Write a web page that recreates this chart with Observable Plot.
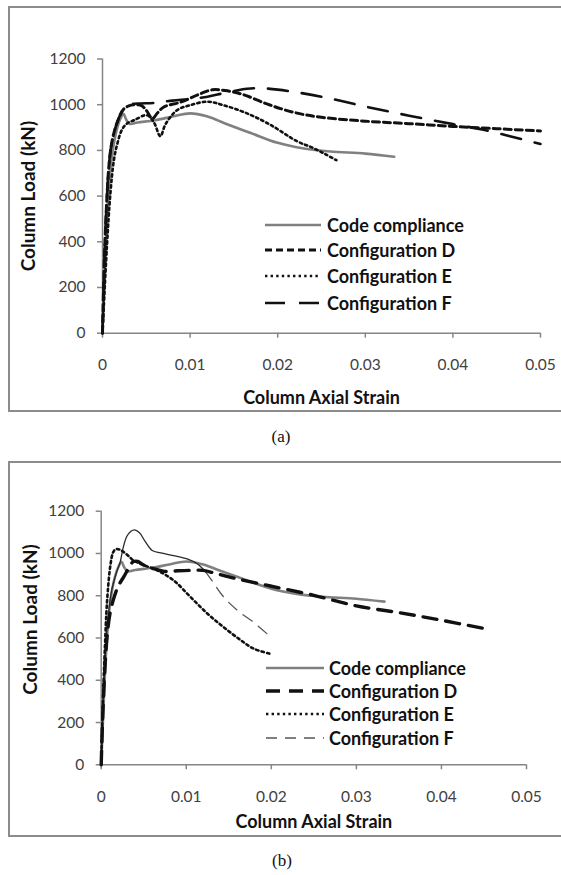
<!DOCTYPE html>
<html><head><meta charset="utf-8">
<script src="https://cdn.jsdelivr.net/npm/d3@7"></script>
<script src="https://cdn.jsdelivr.net/npm/@observablehq/plot@0.6"></script>
<style>
body{margin:0;background:#fff;}
#root{position:relative;width:561px;height:875px;overflow:hidden;font-family:Lato,sans-serif;background:#fff;}
.box{position:absolute;border:2px solid #8c8c8c;box-sizing:border-box;}
.chart{position:absolute;left:0;}
.lrow{position:absolute;height:20px;display:flex;align-items:center;font-weight:700;font-size:18px;color:#111;white-space:nowrap;}
.cap{position:absolute;font-family:"Liberation Serif",serif;font-size:17px;color:#111;transform:translate(-50%,-50%);}
</style></head>
<body><div id="root"></div>
<script>
// ---- axes ----
const xTicks = [0, 0.01, 0.02, 0.03, 0.04, 0.05];
const xTickLabels = ["0", "0.01", "0.02", "0.03", "0.04", "0.05"];
const yTicks = [0, 200, 400, 600, 800, 1000, 1200];
const yTickLabels = ["0", "200", "400", "600", "800", "1000", "1200"];
const xTitle = "Column Axial Strain";
const yTitle = "Column Load (kN)";
const seriesNames = ["Code compliance", "Configuration D", "Configuration E", "Configuration F"];
const captions = ["(a)", "(b)"];

// ---- code compliance (both panels) ----
const ccStrain = [0,0.0003,0.0006,0.001,0.0015,0.002,0.0024,0.0027,0.0031,0.004,0.006,0.008,0.01,0.012,0.014,0.017,0.02,0.023,0.026,0.03,0.0333];
const ccLoad   = [0,300,550,750,870,935,960,935,916,922,932,948,962,948,918,875,833,808,795,786,772];

// ---- panel (a) ----
const aDStrain = [0,0.0003,0.0008,0.0012,0.0018,0.0024,0.003,0.0038,0.0045,0.005,0.0057,0.0063,0.007,0.009,0.011,0.0125,0.014,0.016,0.019,0.022,0.025,0.03,0.035,0.04,0.045,0.05];
const aDLoad   = [0,420,760,860,935,980,995,1000,995,975,940,965,990,1012,1045,1065,1062,1045,1000,965,945,928,917,905,895,885];
const aEStrain = [0,0.0005,0.0009,0.0013,0.0017,0.0022,0.0028,0.0036,0.0051,0.0059,0.0066,0.0072,0.0085,0.01,0.012,0.0138,0.0165,0.0192,0.0222,0.0239,0.0255,0.0267];
const aELoad   = [0,377,611,757,830,889,918,932,954,920,862,915,976,998,1013,998,962,911,840,813,782,757];
const aFStrain = [0,0.0003,0.0008,0.0012,0.0018,0.0023,0.003,0.004,0.006,0.008,0.01,0.012,0.014,0.0165,0.018,0.02,0.025,0.03,0.035,0.04,0.0435,0.05];
const aFLoad   = [0,420,760,860,935,975,1000,1005,1008,1018,1025,1035,1052,1070,1072,1066,1035,992,952,915,890,828];

// ---- panel (b) ----
const bDStrain = [0,0.0002,0.0005,0.0008,0.0011,0.0015,0.002,0.0027,0.0033,0.0038,0.0043,0.005,0.006,0.0075,0.009,0.0105,0.012,0.0135,0.016,0.02,0.025,0.03,0.035,0.04,0.045];
const bDLoad   = [0,250,500,650,730,790,845,893,935,962,962,945,930,915,918,920,920,905,880,845,802,752,720,684,645];
const bEStrain = [0,0.0002,0.0004,0.0007,0.0011,0.0014,0.0017,0.0022,0.0027,0.0033,0.0038,0.005,0.0066,0.0085,0.0105,0.0125,0.0144,0.0164,0.0179,0.0199];
const bELoad   = [0,300,520,780,950,1005,1020,1018,1005,985,967,945,920,873,794,715,651,590,550,525];
const bFStrain = [0,0.0003,0.0007,0.0012,0.0018,0.0022,0.0026,0.003,0.0035,0.0039,0.0045,0.0052,0.006,0.007,0.0085,0.0101,0.0113,0.0123,0.013,0.0144,0.016,0.0179,0.0195];
const bFLoad   = [0,380,650,820,910,955,1030,1080,1105,1112,1098,1055,1014,1003,990,974,951,912,873,794,731,675,620];
const bFDashFrom = 0.0123; // strain where the thin F line turns dashed

const rows = (s, l) => s.map((v, i) => ({strain: v, load: l[i]}));

const axisGray = "#868686";

const panels = [
  {
    top: 0, height: 420, marginLeft: 102, marginRight: 21, marginTop: 58.5, marginBottom: 87.3,
    xTitleDy: 65.3, yTitleDx: -74, yTitleDy: 0,
    box: {left: 8, top: 6, width: 560, height: 406},
    cap: {x: 281, y: 437},
    legend: {lineX: 265, lineW: 56, textX: 327, ys: [225, 250, 276, 303]},
    series: [
      {data: rows(ccStrain, ccLoad), stroke: "#808080", width: 2.6, dash: null},
      {data: rows(aDStrain, aDLoad), stroke: "#111", width: 3, dash: "7,4"},
      {data: rows(aEStrain, aELoad), stroke: "#111", width: 2.6, dash: "2.4,3.2"},
      {data: rows(aFStrain, aFLoad), stroke: "#111", width: 2.6, dash: "20,14"}
    ],
    order: [0, 2, 1, 3]
  },
  {
    top: 440, height: 420, marginLeft: 100.7, marginRight: 35, marginTop: 70.7, marginBottom: 95.7,
    xTitleDy: 57.4, yTitleDx: -70.7, yTitleDy: -18.5,
    box: {left: 8, top: 461, width: 560, height: 376},
    cap: {x: 282, y: 861},
    legend: {lineX: 266, lineW: 58, textX: 329, ys: [668, 691, 714, 738]},
    series: [
      {data: rows(ccStrain, ccLoad), stroke: "#808080", width: 2.6, dash: null},
      {data: rows(bDStrain, bDLoad), stroke: "#111", width: 3.4, dash: "14,9"},
      {data: rows(bEStrain, bELoad), stroke: "#111", width: 2.6, dash: "2.4,3.2"},
      {data: rows(bFStrain, bFLoad), stroke: "#555", width: 1.3, dash: "11,8", solidUntil: bFDashFrom}
    ],
    order: [0, 3, 2, 1]
  }
];

const root = document.getElementById("root");

panels.forEach((p, pi) => {
  const box = document.createElement("div");
  box.className = "box";
  Object.assign(box.style, {left: p.box.left + "px", top: p.box.top + "px", width: p.box.width + "px", height: p.box.height + "px"});
  root.appendChild(box);

  const lineMarks = [];
  p.order.forEach(k => {
    const s = p.series[k];
    if (s.solidUntil != null) {
      lineMarks.push(Plot.line(s.data.filter(d => d.strain <= s.solidUntil), {x: "strain", y: "load", stroke: "#2a2a2a", strokeWidth: s.width, curve: "catmull-rom"}));
      lineMarks.push(Plot.line(s.data.filter(d => d.strain >= s.solidUntil), {x: "strain", y: "load", stroke: s.stroke, strokeWidth: s.width, strokeDasharray: s.dash, curve: "catmull-rom"}));
    } else {
      lineMarks.push(Plot.line(s.data, {x: "strain", y: "load", stroke: s.stroke, strokeWidth: s.width, strokeDasharray: s.dash, curve: "catmull-rom"}));
    }
  });

  const chart = Plot.plot({
    width: 561, height: p.height,
    marginLeft: p.marginLeft, marginRight: p.marginRight, marginTop: p.marginTop, marginBottom: p.marginBottom,
    style: {fontFamily: "Lato, sans-serif", fontSize: "15.5px", background: "transparent", overflow: "visible"},
    x: {domain: [0, 0.05]},
    y: {domain: [0, 1200]},
    marks: [
      Plot.ruleY([0], {stroke: axisGray, strokeWidth: 1.5}),
      Plot.ruleX([0], {stroke: axisGray, strokeWidth: 1.5}),
      Plot.axisX({ticks: xTicks, tickFormat: d => xTickLabels[xTicks.indexOf(d)], tickSize: 5, tickPadding: 21, stroke: axisGray, strokeWidth: 1.5, fill: "#404040", label: null}),
      Plot.axisY({ticks: yTicks, tickFormat: d => yTickLabels[yTicks.indexOf(d)], tickSize: 5, tickPadding: 12, stroke: axisGray, strokeWidth: 1.5, fill: "#404040", label: null}),
      ...lineMarks,
      Plot.text([xTitle], {text: d => d, frameAnchor: "bottom", dy: p.xTitleDy, lineAnchor: "middle", textAnchor: "middle", fontWeight: 700, fontSize: 18, fill: "#111"}),
      Plot.text([yTitle], {text: d => d, frameAnchor: "left", dx: p.yTitleDx, dy: p.yTitleDy, rotate: -90, lineAnchor: "middle", textAnchor: "middle", fontWeight: 700, fontSize: 19, fill: "#111"})
    ]
  });
  chart.classList.add("chart");
  chart.style.top = p.top + "px";
  root.appendChild(chart);

  // legend
  seriesNames.forEach((name, i) => {
    const s = p.series[i];
    const row = document.createElement("div");
    row.className = "lrow";
    row.style.left = p.legend.lineX + "px";
    row.style.top = (p.legend.ys[i] - 10) + "px";
    const gap = p.legend.textX - p.legend.lineX - p.legend.lineW;
    const dash = s.dash ? `stroke-dasharray="${s.dash}"` : "";
    row.innerHTML = `<svg width="${p.legend.lineW}" height="10" style="margin-right:${gap}px"><line x1="0" y1="5" x2="${p.legend.lineW}" y2="5" stroke="${s.stroke === "#555" ? "#808080" : s.stroke}" stroke-width="${Math.max(s.width, 1.8)}" ${dash}/></svg><span>${name}</span>`;
    root.appendChild(row);
  });

  const cap = document.createElement("div");
  cap.className = "cap";
  cap.style.left = p.cap.x + "px";
  cap.style.top = p.cap.y + "px";
  cap.textContent = captions[pi];
  root.appendChild(cap);
});
</script>
</body></html>
